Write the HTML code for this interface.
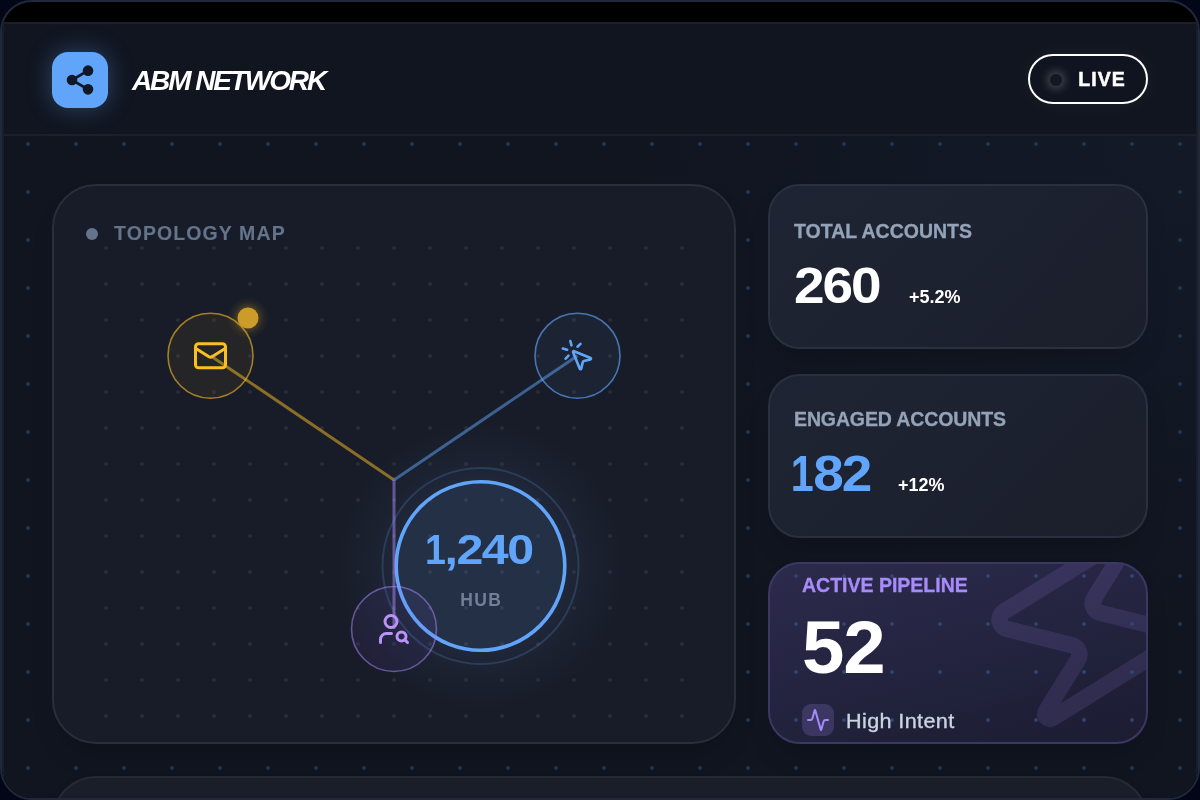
<!DOCTYPE html>
<html>
<head>
<meta charset="utf-8">
<style>
*{box-sizing:border-box;margin:0;padding:0}
html,body{width:1200px;height:800px;overflow:hidden;background:#020617;font-family:"Liberation Sans",Arial,sans-serif}
.frame{position:absolute;left:0;top:0;width:1200px;height:800px;border:2px solid #1e293b;border-radius:32px;background:#000;overflow:hidden}
.screen{position:absolute;left:0;top:20px;width:1196px;height:776px;border:2px solid #1c1f29;border-bottom:none;background:radial-gradient(600px 500px at 1200px 120px,rgba(90,120,200,0.045),rgba(90,120,200,0) 100%),#101520;overflow:hidden}
.pagedots{position:absolute;left:0;top:0;width:1192px;height:776px;background-image:radial-gradient(circle at 24px 24px,#21385c 0,#21385c 1.4px,rgba(33,56,92,0) 2.3px);background-size:48px 48px;background-position:0 0}
.header{position:absolute;left:0;top:0;width:1192px;height:112px;background:#111520;border-bottom:2px solid #1c202b}
.logo{position:absolute;left:48px;top:28px;width:56px;height:56px;border-radius:16px;background:#60a5fa;box-shadow:0 0 24px rgba(96,165,250,0.35)}
.logo svg{position:absolute;left:12px;top:12px}
.title{position:absolute;left:128px;top:41px;font-size:28px;font-weight:700;font-style:italic;color:#fff;letter-spacing:-2.1px;line-height:32px;white-space:nowrap}
.live{position:absolute;left:1024px;top:30px;width:120px;height:50px;border:2px solid #fff;border-radius:25px;background:#0f1420;box-shadow:0 0 20px rgba(255,255,255,0.05)}
.live .dot{position:absolute;left:20px;top:18px;width:12px;height:12px;border-radius:50%;background:#121722;box-shadow:0 0 8px 3px rgba(255,255,255,0.22)}
.live .txt{position:absolute;left:48.3px;top:12px;font-size:19.5px;font-weight:700;color:#fff;letter-spacing:1.05px;line-height:22px;-webkit-text-stroke:0.5px #fff}

.card{position:absolute;border:2px solid #2a2e3b;overflow:hidden;box-shadow:0 16px 30px -12px rgba(0,0,0,0.25)}
.topo{left:48px;top:160px;width:684px;height:560px;border-radius:44px;background:#181c28}
.topodots{position:absolute;left:34px;top:44px;width:612px;height:504px;background-image:radial-gradient(circle at 18px 18px,rgba(148,163,184,0.12) 0,rgba(148,163,184,0.12) 1.4px,rgba(148,163,184,0) 2.4px);background-size:36px 36px}
.stat{left:764px;width:380px;border-radius:32px;background:linear-gradient(135deg,#1f2434,#1b1f2b);border-color:#2b303e}
.lbl{position:absolute;font-size:19.5px;font-weight:700;letter-spacing:0;color:#94a3b8;white-space:nowrap;line-height:20px;-webkit-text-stroke:0.3px currentColor}
.big{position:absolute;font-size:50px;font-weight:700;color:#fff;letter-spacing:-1.9px;line-height:50px;white-space:nowrap;transform:scaleX(1.1);transform-origin:0 0}
.chg{position:absolute;font-size:18px;font-weight:700;color:#fff;letter-spacing:0;line-height:20px;white-space:nowrap}
.hib{position:absolute;left:32px;top:140px;width:32px;height:32px;border-radius:9px;background:rgba(167,139,250,0.2)}
.hib svg{position:absolute;left:4px;top:4px}
.hit{position:absolute;left:76px;top:146.3px;font-size:20px;letter-spacing:0.35px;transform:scaleX(1.08);transform-origin:0 0;color:#cbd5e1;line-height:22px;white-space:nowrap;-webkit-text-stroke:0.35px #cbd5e1}
.pipe{left:764px;top:538px;width:380px;height:182px;border-radius:32px;border-color:#3e3763;background:linear-gradient(165deg,#2c2a4b 0%,#262644 35%,#1f2038 75%,#1c1d33 100%)}
.pdots{position:absolute;left:0;top:0;width:100%;height:100%;background-image:radial-gradient(circle at 24px 24px,#2e4673 0,#2e4673 1.4px,rgba(46,70,115,0) 2.3px);background-size:48px 48px;background-position:2px -12px}
.bottom{left:48px;top:752px;width:1096px;height:100px;border-radius:44px;background:#1a1e29;border-color:#262a36}
</style>
</head>
<body>
<div class="frame">
 <div class="screen">
  <div class="pagedots"></div>
  <div class="header">
   <div class="logo"><svg width="32" height="32" viewBox="0 0 24 24" fill="#111827" stroke="#111827" stroke-width="2" stroke-linecap="round" stroke-linejoin="round"><circle cx="18" cy="5" r="3"/><circle cx="6" cy="12" r="3"/><circle cx="18" cy="19" r="3"/><line x1="8.59" y1="13.51" x2="15.42" y2="17.49"/><line x1="15.41" y1="6.51" x2="8.59" y2="10.49"/></svg></div>
   <div class="title">ABM NETWORK</div>
   <div class="live"><div class="dot"></div><div class="txt">LIVE</div></div>
  </div>

  <div class="card topo">
   <svg class="graph" width="1200" height="800" viewBox="0 0 1200 800" style="position:absolute;left:-54px;top:-186px">
    <defs>
     <radialGradient id="hg" cx="50%" cy="50%" r="50%">
      <stop offset="0.55" stop-color="#5b7fc0" stop-opacity="0.13"/>
      <stop offset="0.72" stop-color="#5b7fc0" stop-opacity="0.06"/>
      <stop offset="1" stop-color="#5b7fc0" stop-opacity="0"/>
     </radialGradient>
     <radialGradient id="ag" cx="50%" cy="50%" r="50%">
      <stop offset="0.5" stop-color="#fbbf24" stop-opacity="0.2"/>
      <stop offset="0.75" stop-color="#fbbf24" stop-opacity="0.06"/>
      <stop offset="1" stop-color="#fbbf24" stop-opacity="0"/>
     </radialGradient>
    </defs>
    <circle cx="480.5" cy="566" r="145" fill="url(#hg)"/>
    <!-- hub -->
    <circle cx="480.5" cy="566" r="98" fill="none" stroke="#60a5fa" stroke-opacity="0.2" stroke-width="2"/>
    <circle cx="480.5" cy="566" r="84.3" fill="#243045" stroke="#60a5fa" stroke-width="3.6"/>
    <!-- nodes -->
    <circle cx="210.5" cy="355.7" r="42.5" fill="#fbbf24" fill-opacity="0.06" stroke="#fbbf24" stroke-opacity="0.6" stroke-width="1.6"/>
    <circle cx="577.5" cy="355.7" r="42.5" fill="#60a5fa" fill-opacity="0.06" stroke="#60a5fa" stroke-opacity="0.65" stroke-width="1.6"/>
    <circle cx="394" cy="629" r="42.5" fill="#8b5cf6" fill-opacity="0.08" stroke="#a78bfa" stroke-opacity="0.52" stroke-width="1.6"/>
    <!-- lines -->
    <line x1="210.5" y1="355.7" x2="394" y2="480" stroke="#fbbf24" stroke-opacity="0.5" stroke-width="3"/>
    <line x1="394" y1="480" x2="577.5" y2="355.7" stroke="#60a5fa" stroke-opacity="0.5" stroke-width="3"/>
    <line x1="394" y1="480" x2="394" y2="629" stroke="#a78bfa" stroke-opacity="0.5" stroke-width="3"/>
    <!-- amber ping -->
    <circle cx="248" cy="318" r="21" fill="url(#ag)"/>
    <circle cx="248" cy="318" r="10.5" fill="#cc9b28"/>
    <!-- icons -->
    <g transform="translate(192.5,337.7) scale(1.5)" fill="none" stroke="#fbbf24" stroke-width="2" stroke-linecap="round" stroke-linejoin="round">
     <rect x="2" y="4" width="20" height="16" rx="2"/><path d="m22 7-8.97 5.7a1.94 1.94 0 0 1-2.06 0L2 7"/>
    </g>
    <g transform="translate(559.5,337.7) scale(1.5)" fill="none" stroke="#60a5fa" stroke-width="1.75" stroke-linecap="round" stroke-linejoin="round">
     <path d="M14 4.1 12 6"/><path d="m5.1 8-2.9-.8"/><path d="m6 12-1.9 2"/><path d="M7.2 2.2 8 5.1"/><path d="M9.037 9.69a.498.498 0 0 1 .653-.653l11 4.5a.5.5 0 0 1-.074.949l-4.349 1.041a1 1 0 0 0-.74.739l-1.04 4.35a.5.5 0 0 1-.95.074z"/>
    </g>
    <g transform="translate(376,611) scale(1.5)" fill="none" stroke="#bb92f9" stroke-width="2" stroke-linecap="round" stroke-linejoin="round">
     <circle cx="10" cy="7" r="4"/><path d="M10.3 15H7a4 4 0 0 0-4 4v2"/><circle cx="17" cy="17" r="3"/><path d="m21 21-1.9-1.9"/>
    </g>
    
    <text x="481.2" y="606.3" text-anchor="middle" font-family="Liberation Sans, Arial, sans-serif" font-size="17.5" font-weight="700" fill="#718096" letter-spacing="1.4">HUB</text>
   </svg>
   <div class="topodots"></div>
   <div style="position:absolute;left:370.9px;top:342.5px;font-size:42px;font-weight:700;color:#60a5fa;line-height:42px;white-space:nowrap;letter-spacing:-1.3px;transform:scaleX(1.15);transform-origin:0 0"><span style="display:inline-block;width:17px;letter-spacing:0;transform:scaleX(0.78);transform-origin:0 0">1</span>,240</div>
   <div style="position:absolute;left:32px;top:42px;width:12px;height:12px;border-radius:50%;background:#64748b"></div>
   <div class="lbl" style="left:60px;top:37.2px;color:#64748b;letter-spacing:1.1px;-webkit-text-stroke:0.1px #64748b">TOPOLOGY MAP</div>
  </div>

  <div class="card stat" style="top:160px;height:165px">
   <div class="lbl" style="left:24px;top:34.7px">TOTAL ACCOUNTS</div>
   <div class="big" style="left:24px;top:75px">260</div>
   <div class="chg" style="left:139px;top:101px">+5.2%</div>
  </div>
  <div class="card stat" style="top:350px;height:164px">
   <div class="lbl" style="left:24px;top:32.9px;letter-spacing:-0.12px">ENGAGED ACCOUNTS</div>
   <div class="big" style="left:24px;top:73px;color:#60a5fa"><span style="display:inline-block;width:20.5px;margin-left:-3px;letter-spacing:0;transform:scaleX(0.75);transform-origin:0 0">1</span>82</div>
   <div class="chg" style="left:128px;top:99px">+12%</div>
  </div>
  <div class="card pipe">
   <svg class="zap" width="380" height="181" viewBox="0 0 380 181" style="position:absolute;left:-2px;top:-2px">
    <g transform="translate(318,67) rotate(14) scale(9.6) translate(-12,-12)" fill="none" stroke="#a78bfa" stroke-opacity="0.13" stroke-width="1.72" stroke-linecap="round" stroke-linejoin="round">
     <path d="M4 14a1 1 0 0 1-.78-1.63l9.9-10.2a.5.5 0 0 1 .86.46l-1.92 6.02A1 1 0 0 0 13 10h7a1 1 0 0 1 .78 1.63l-9.9 10.2a.5.5 0 0 1-.86-.46l1.92-6.02A1 1 0 0 0 11 14z"/>
    </g>
   </svg>
   <div class="pdots"></div>
   <div class="lbl" style="left:32px;top:11.1px;color:#a78bfa">ACTIVE PIPELINE</div>
   <div class="big" style="left:32px;top:45.5px;font-size:74px;line-height:76px;letter-spacing:-1px;transform:scaleX(1.03);transform-origin:0 0">52</div>
   <div class="hib"><svg width="24" height="24" viewBox="0 0 24 24" fill="none" stroke="#a78bfa" stroke-width="2" stroke-linecap="round" stroke-linejoin="round"><path d="M22 12h-2.48a2 2 0 0 0-1.93 1.46l-2.35 8.36a.25.25 0 0 1-.48 0L9.24 2.18a.25.25 0 0 0-.48 0l-2.35 8.36A2 2 0 0 1 4.49 12H2"/></svg></div>
   <div class="hit">High Intent</div>
  </div>

  <div class="card bottom"></div>
 </div>
</div>
</body>
</html>
